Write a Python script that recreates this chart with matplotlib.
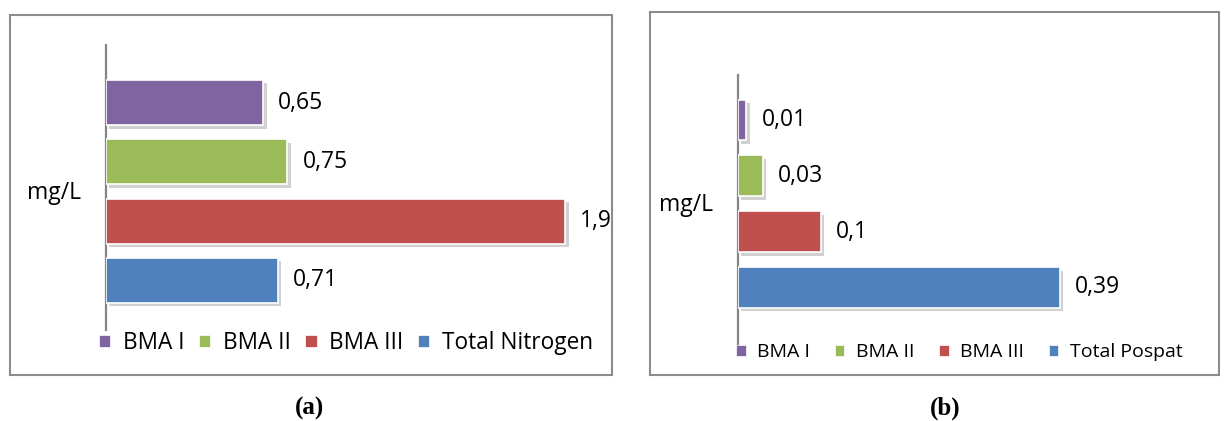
import matplotlib
matplotlib.use("Agg")
import matplotlib.pyplot as plt
from matplotlib.patches import Rectangle, Patch
import matplotlib.patheffects as pe

# ---------------- data ----------------
categories_a = ["BMA I", "BMA II", "BMA III", "Total Nitrogen"]
values_a = [0.65, 0.75, 1.9, 0.71]
labels_a = ["0,65", "0,75", "1,9", "0,71"]

categories_b = ["BMA I", "BMA II", "BMA III", "Total Pospat"]
values_b = [0.01, 0.03, 0.1, 0.39]
labels_b = ["0,01", "0,03", "0,1", "0,39"]

colors = ["#8064A2", "#9BBB59", "#C0504D", "#4F81BD"]
unit_label = "mg/L"
captions = ["(a)", "(b)"]

FONT = "Open Sans"
W, H = 1231, 421
fig = plt.figure(figsize=(W / 100, H / 100), dpi=100)
fig.patch.set_facecolor("white")


def rect(x0, y0, x1, y1):
    """pixel box (top-based y) -> figure fraction [l, b, w, h]"""
    return [x0 / W, 1 - y1 / H, (x1 - x0) / W, (y1 - y0) / H]


def frame(x0, y0, x1, y1):
    l, b, w, h = rect(x0, y0, x1, y1)
    fig.patches.append(Rectangle((l, b), w, h, transform=fig.transFigure,
                                 fill=False, edgecolor="#8c8c8c", lw=1.5))


def panel(box, xlim, ylim, cats, vals, labs, bar_h, lab_size, leg_box, leg_size,
          leg_kw, ylab_xy, lab_pad):
    ax = fig.add_axes(rect(*box))
    n = len(vals)
    ypos = list(range(n))[::-1]
    bars = ax.barh(ypos, vals, height=bar_h, color=colors, edgecolor="white",
                   linewidth=1.2, zorder=3)
    for b in bars:
        b.set_path_effects([pe.SimplePatchShadow(offset=(2.5, -2.5),
                                                 shadow_rgbFace="#9a9a9a",
                                                 alpha=0.45),
                            pe.Normal()])
    for yb, v, t in zip(ypos, vals, labs):
        ax.annotate(t, (v, yb), xytext=(lab_pad, 0), textcoords="offset points",
                    va="center", ha="left", fontsize=lab_size, family=FONT,
                    color="black")
    ax.set_xlim(*xlim)
    ax.set_ylim(*ylim)
    for s in ["top", "right", "bottom"]:
        ax.spines[s].set_visible(False)
    ax.spines["left"].set_color("#868686")
    ax.spines["left"].set_linewidth(1.6)
    ax.set_xticks([])
    ax.set_yticks([])
    ax.patch.set_alpha(0)
    handles = [Patch(facecolor=c, edgecolor="white", lw=0.5) for c in colors]
    l, b, w, h = rect(*leg_box)
    fig.legend(handles, cats, loc="center left",
               bbox_to_anchor=(l, b + h / 2), bbox_transform=fig.transFigure,
               ncol=4, frameon=False, prop={"family": FONT, "size": leg_size},
               handlelength=0.5, handleheight=0.5, borderaxespad=0,
               borderpad=0, **leg_kw)
    fig.text(ylab_xy[0] / W, 1 - ylab_xy[1] / H, unit_label, family=FONT,
             fontsize=lab_size, ha="left", va="center")
    return ax


# panel (a)
frame(10, 15, 612, 375)
panel(box=(106, 45, 600, 330), xlim=(0, 494 / 241.6), ylim=(-0.835, 3.97),
      cats=categories_a, vals=values_a, labs=labels_a, bar_h=0.76, lab_size=16.5,
      leg_box=(99, 333, 600, 353), leg_size=16.3,
      leg_kw=dict(handletextpad=0.55, columnspacing=0.65), ylab_xy=(27, 193),
      lab_pad=11)

# panel (b)
frame(650, 12, 1219, 375)
panel(box=(738, 75, 1210, 345), xlim=(0, 472 / 825.0), ylim=(-1.03, 3.806),
      cats=categories_b, vals=values_b, labs=labels_b, bar_h=0.73, lab_size=16.5,
      leg_box=(736, 342, 1200, 362), leg_size=14,
      leg_kw=dict(handletextpad=0.6, columnspacing=1.25), ylab_xy=(659, 205),
      lab_pad=11)

fig.text(310 / W, 1 - 408 / H, captions[0], family="Liberation Serif",
         fontweight="bold", fontsize=18, ha="center", va="center")
fig.text(945 / W, 1 - 408 / H, captions[1], family="Liberation Serif",
         fontweight="bold", fontsize=18, ha="center", va="center")

fig.savefig("out.png", dpi=100, facecolor="white")
